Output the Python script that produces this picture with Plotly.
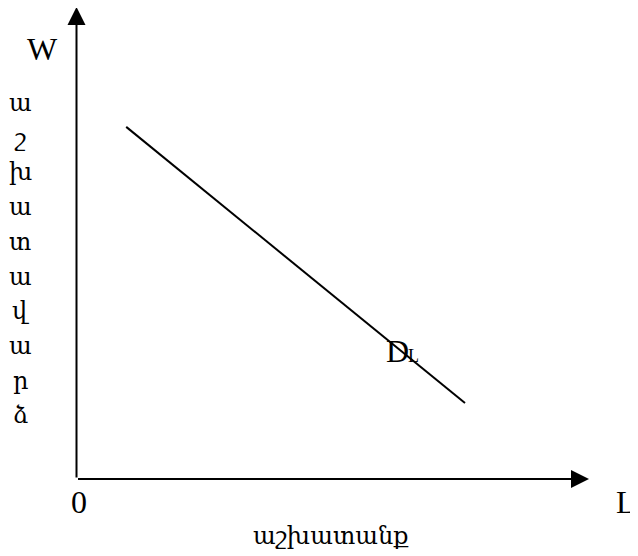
import plotly.graph_objects as go

# данные: кривая спроса на труд D_L
L = [0.97, 7.58]
W = [7.46, 1.61]

# подписи
y_letters = list("աշխատավարձ")  # вертикальная подпись (зарплата)
x_title = "աշխատանք"            # труд
curve_name = ("D", "L")

# страница добавляет отступ 8px, поэтому фигура чуть меньше окна
PAD = 8
WIDTH, HEIGHT = 638 - PAD, 556 - PAD
# начало координат и масштаб (в пикселях исходной картинки)
X0, Y0 = 76.5 - PAD, 479.0 - PAD
SX, SY = 51.25, 47.2

serif = "Liberation Serif, DejaVu Serif, serif"


def px(x):
    return (x - PAD) / WIDTH


def py(y):
    return 1 - (y - PAD) / HEIGHT


fig = go.Figure()

fig.add_trace(go.Scatter(x=L, y=W, mode="lines",
                         line=dict(color="black", width=2),
                         hoverinfo="skip", showlegend=False))

# оси со стрелками
for tip in [(10, 0), (0, 10)]:
    fig.add_annotation(x=tip[0], y=tip[1], ax=0, ay=0, xref="x", yref="y",
                       axref="x", ayref="y", text="", showarrow=True,
                       arrowhead=2, arrowsize=1.8, arrowwidth=2,
                       arrowcolor="black", standoff=0)

big = dict(family=serif, size=32, color="black")
small = dict(family=serif, size=24, color="black")

texts = [
    ("W", 42, 49, big),
    ("0", 79, 502, big),
    ("L", 626, 502, big),
    (curve_name[0], 397, 351, big),
    (curve_name[1], 413, 356, dict(family=serif, size=18, color="black")),
    (x_title, 331, 536, small),
]
for i, ch in enumerate(y_letters):
    texts.append((ch, 20, 103 + i * 34.7, small))

for t, x, y, f in texts:
    fig.add_annotation(x=px(x), y=py(y), xref="paper", yref="paper",
                       text=t, showarrow=False, font=f,
                       xanchor="center", yanchor="middle")

fig.update_xaxes(range=[-X0 / SX, (WIDTH - X0) / SX], visible=False)
fig.update_yaxes(range=[(Y0 - HEIGHT) / SY, Y0 / SY], visible=False)
fig.update_layout(width=WIDTH, height=HEIGHT,
                  margin=dict(l=0, r=0, t=0, b=0),
                  plot_bgcolor="white", paper_bgcolor="white")

fig.write_html("out.html")
